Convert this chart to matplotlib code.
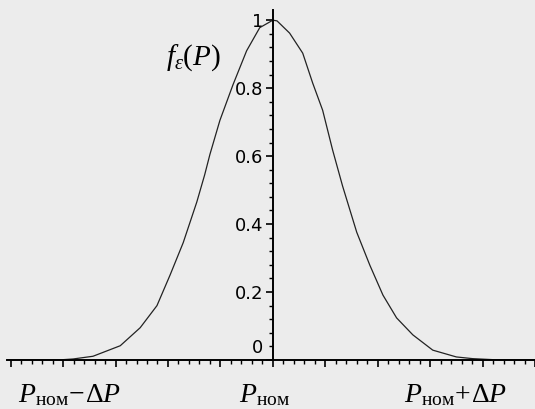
import matplotlib.pyplot as plt
from matplotlib.ticker import MultipleLocator
from matplotlib.transforms import ScaledTranslation

plt.rcParams['mathtext.fontset'] = 'custom'
plt.rcParams['mathtext.rm'] = 'Liberation Serif'
plt.rcParams['mathtext.it'] = 'Liberation Serif:italic'

# points (P in tick units, f in 0..1)
p_vals = [-5.07, -4.5, -4.0, -3.81, -3.43, -2.91, -2.53, -2.21, -1.96, -1.71,
          -1.45, -1.30, -1.20, -1.01, -0.76, -0.50, -0.25, 0.0,
          0.08, 0.32, 0.57, 0.76, 0.95, 1.14, 1.33, 1.60, 1.85, 2.10,
          2.36, 2.67, 3.05, 3.50, 3.81, 4.2, 5.0]
f_vals = [0.0, 0.0, 0.001, 0.003, 0.011, 0.042, 0.095, 0.16, 0.25, 0.345,
          0.465, 0.545, 0.605, 0.705, 0.81, 0.91, 0.978, 1.0,
          0.998, 0.962, 0.903, 0.815, 0.735, 0.618, 0.512, 0.376, 0.279, 0.191,
          0.124, 0.074, 0.029, 0.009, 0.004, 0.001, 0.0]

ytick_vals = [0, 0.2, 0.4, 0.6, 0.8, 1]
ytick_labels = ["0", "0.2", "0.4", "0.6", "0.8", "1"]

x_labels = [r"$P_{\mathrm{ном}}\!-\!\Delta P$", r"$P_{\mathrm{ном}}$", r"$P_{\mathrm{ном}}\!+\!\Delta P$"]
x_label_pos = [-3.87, -0.15, 3.49]

bg = "#ececec"
fig = plt.figure(figsize=(5.35, 4.09), dpi=100, facecolor=bg)
ax = fig.add_axes([7/535, 49/409, 528/535, 350/409])
ax.set_facecolor(bg)

ax.plot(p_vals, f_vals, color="#222222", linewidth=0.9)

ax.set_xlim(-5.07, 5.0)
ax.set_ylim(0, 1.03)

ax.spines['left'].set_position(('data', 0))
ax.spines['right'].set_visible(False)
ax.spines['top'].set_visible(False)
ax.spines['left'].set_linewidth(1.4)
ax.spines['bottom'].set_linewidth(1.4)

ax.xaxis.set_major_locator(MultipleLocator(1))
ax.xaxis.set_minor_locator(MultipleLocator(0.2))
ax.set_xticklabels([])
ax.yaxis.set_minor_locator(MultipleLocator(0.04))
ax.set_yticks(ytick_vals)
ax.set_yticklabels(ytick_labels)
ax.tick_params(which='major', length=5, width=1.2, direction='out', labelsize=13, pad=2)
ax.tick_params(which='minor', length=3, width=1.0, direction='out')

# the "0" label sits a little above the axis line, as in the original
for lbl in ax.get_yticklabels():
    if lbl.get_text() == "0":
        lbl.set_transform(lbl.get_transform() + ScaledTranslation(0, 14/100, fig.dpi_scale_trans))

ax.text(-1.52, 0.89, r"$f_{\varepsilon}(P)$", fontsize=21, ha='center', va='center')

for pos, txt in zip(x_label_pos, x_labels):
    ax.text(pos, -0.1, txt, fontsize=20, ha='center', va='center')

plt.savefig("out.png", dpi=100, facecolor=bg)
